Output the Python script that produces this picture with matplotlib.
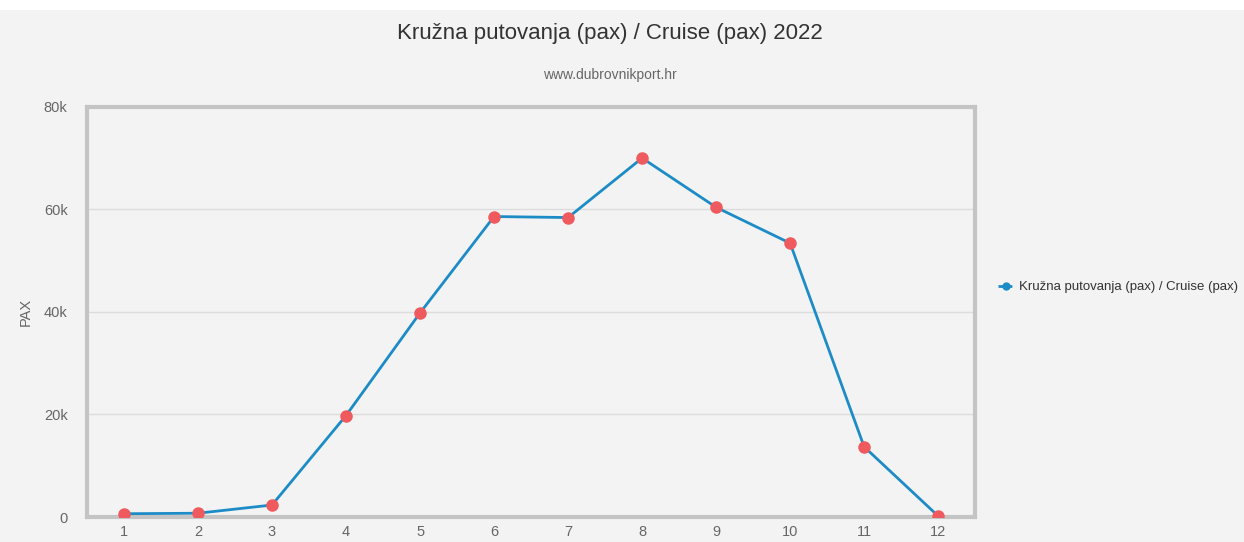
import matplotlib.pyplot as plt
from matplotlib.lines import Line2D
from matplotlib.patches import Rectangle

# data
months = [1, 2, 3, 4, 5, 6, 7, 8, 9, 10, 11, 12]
pax = [650, 750, 2350, 19800, 39800, 58600, 58400, 70000, 60400, 53400, 13700, 200]
yticks = [0, 20000, 40000, 60000, 80000]
ytick_labels = ['0', '20k', '40k', '60k', '80k']

title = 'Kružna putovanja (pax) / Cruise (pax) 2022'
subtitle = 'www.dubrovnikport.hr'
series_name = 'Kružna putovanja (pax) / Cruise (pax)'

plt.rcParams['font.family'] = ['Liberation Sans', 'DejaVu Sans']

bg = '#f3f3f3'
fig = plt.figure(figsize=(12.44, 5.42), dpi=100, facecolor=bg)
# white band at the very top
fig.patches.append(Rectangle((0, 0.982), 1, 0.018, transform=fig.transFigure,
                             facecolor='white', edgecolor='none', zorder=0))

ax = fig.add_axes([0.0699, 0.046, 0.714, 0.757])
ax.set_facecolor(bg)

ax.plot(months, pax, color='#1d8cc6', linewidth=2, zorder=3)
ax.plot(months, pax, linestyle='none', marker='o', markersize=8,
        color='#ef5a5f', zorder=4)

ax.set_xlim(0.5, 12.5)
ax.set_ylim(0, 80000)
ax.set_xticks(months)
ax.set_yticks(yticks)
ax.set_yticklabels(ytick_labels)
ax.grid(axis='y', color='#dcdcdc', linewidth=1)
ax.set_axisbelow(True)

for s in ax.spines.values():
    s.set_color('#c4c4c4')
    s.set_linewidth(3)

ax.tick_params(length=0, colors='#666666', labelsize=10.5)
ax.tick_params(axis='y', pad=14)
ax.tick_params(axis='x', pad=6)
ax.set_ylabel('PAX', color='#666666', fontsize=10.5, labelpad=8)

fig.text(0.4905, 0.938, title, ha='center', va='center', fontsize=16, color='#333333')
fig.text(0.4905, 0.862, subtitle, ha='center', va='center', fontsize=10, color='#666666')

handle = Line2D([0], [0], color='#1d8cc6', marker='o', markersize=5,
                linestyle=(0, (2, 1)), linewidth=2)
fig.legend([handle], [series_name], loc='center left', bbox_to_anchor=(0.793, 0.47),
           frameon=False, fontsize=9.5, labelcolor='#333333', handlelength=1.2,
           handletextpad=0.4)

fig.savefig('out.png', dpi=100, facecolor=bg)
